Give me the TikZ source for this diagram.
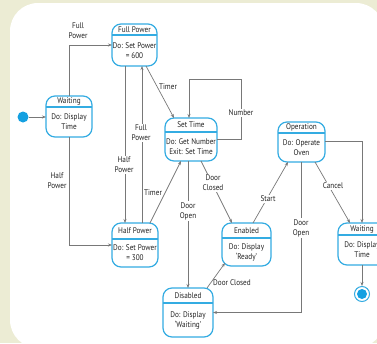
\documentclass[tikz,border=0pt]{standalone}
\usepackage{fontspec}
\setmainfont{PT Sans}[FakeStretch=0.88]
\usetikzlibrary{arrows.meta}
\definecolor{cream}{RGB}{236,236,212}
\definecolor{stcol}{RGB}{52,172,226}
\definecolor{dotcol}{RGB}{20,160,225}
\definecolor{conncol}{RGB}{120,120,120}
\definecolor{txtcol}{RGB}{35,35,35}
\tikzset{
  stbox/.style={draw=stcol, line width=1.2pt, rounded corners=9pt, inner sep=0pt, outer sep=0pt, fill=white},
  stline/.style={draw=stcol, line width=1.1pt},
  ttl/.style={font=\fontsize{8.2}{10}\selectfont, text=txtcol, inner sep=0pt},
  bdy/.style={font=\fontsize{8.2}{10}\selectfont, text=txtcol, inner sep=0pt, align=center},
  conn/.style={draw=conncol, line width=0.7pt, -{Stealth[length=4pt,width=3pt]}},
  lbl/.style={font=\fontsize{8.2}{10}\selectfont, text=txtcol, inner sep=1pt, align=center},
  lblw/.style={lbl, fill=white}
}
\newcommand\umlstate[8]{%
  \pgfmathsetmacro\stcx{(#2+#4)/2}\pgfmathsetmacro\stcy{(#3+#5)/2}%
  \pgfmathsetmacro\stww{#4-#2}\pgfmathsetmacro\sthh{#5-#3}%
  \pgfmathsetmacro\stty{(#3+#6)/2}\pgfmathsetmacro\stby{(#6+#5)/2}%
  \node[stbox, minimum width=\stww pt, minimum height=\sthh pt] (#1) at (\stcx,\stcy) {};
  \draw[stline] (#2,#6) -- (#4,#6);
  \node[ttl] (#1-t) at (\stcx,\stty) {#7};
  \node[bdy] (#1-b) at (\stcx,\stby) {#8};
}
\begin{document}
\begin{tikzpicture}[x=1pt,y=-1pt]
\clip (0,0) rectangle (377,343);
\fill[cream] (0,0) rectangle (377,343);
\fill[white, rounded corners=28pt] (10,3) rectangle (384,348);

\node[circle, fill=dotcol, minimum size=11pt, inner sep=0pt] (init) at (23,117) {};

\umlstate{wait1}{46}{96}{92}{137}{107}{Waiting}{Do: Display\\Time}
\umlstate{full}{112}{24}{157}{66}{35}{Full Power}{Do: Set Power\\= 600}
\umlstate{set}{165}{118}{217}{161}{132}{Set Time}{Do: Get Number\\Exit: Set Time}
\umlstate{half}{112}{223}{158}{267}{239}{Half Power}{Do: Set Power\\= 300}
\umlstate{en}{222}{223}{271}{266}{238}{Enabled}{Do: Display\\`Ready'}
\umlstate{dis}{163}{288}{213}{337}{303}{Disabled}{Do: Display\\`Waiting'}
\umlstate{op}{278}{122}{325}{162}{133}{Operation}{Do: Operate\\Oven}
\umlstate{wr}{338}{223}{386}{265}{235}{Waiting}{Do: Display\\Time}

\node[circle, draw=stcol, line width=1pt, fill=white, minimum size=15pt, inner sep=0pt] (final) at (362,294) {};
\node[circle, fill=dotcol, minimum size=10pt, inner sep=0pt] (finalin) at (final) {};

% connectors
\draw[conn] (init) -- (wait1.west |- init);
\draw[conn] (wait1.north) |- (full.west);
\node[lbl] (l1) at (78,31) {Full\\Power};
\draw[conn] (wait1.south) |- (half.west);
\node[lbl] (l2) at (57,181) {Half\\Power};

\draw[conn] (125,0 |- full.south) -- (125,0 |- half.north);
\node[lblw] (l3) at (124,165) {Half\\Power};
\draw[conn] (142,0 |- half.north) -- (142,0 |- full.south);
\node[lblw] (l4) at (141,133) {Full\\Power};

\draw[conn] (146,0 |- full.south) -- (174,0 |- set.north);
\node[lbl] (l5) at (168,87) {Timer};
\draw[conn] (150,0 |- half.north) -- (181,0 |- set.south);
\node[lbl] (l6) at (153,193) {Timer};

\draw[conn] (set.east |- 0,139) -- (241,139) -- (241,79) -- (189,79) -- (189,0 |- set.north);
\node[lblw] (l7) at (241,113) {Number};

\draw[conn] (201,0 |- set.south) -- (232,0 |- en.north);
\node[lblw] (l8) at (213,183) {Door\\Closed};
\draw[conn] (188,0 |- set.south) -- (188,0 |- dis.north);
\node[lblw] (l9) at (188,211) {Door\\Open};

\draw[conn] (207,0 |- dis.north) -- ([xshift=3pt,yshift=3pt]en.south west);
\node[lbl] (l10) at (232,283) {Door Closed};

\draw[conn] (253,0 |- en.north) -- (288,0 |- op.south);
\node[lblw] (l11) at (268,199) {Start};

\draw[conn] (301,0 |- op.south) |- (dis.east);
\node[lblw] (l12) at (301,228) {Door\\Open};

\draw[conn] (315,0 |- op.south) -- (350,0 |- wr.north);
\node[lblw] (l13) at (333,186) {Cancel};

\draw[conn] (op.east |- 0,141) -| (wr.north);
\draw[conn] (wr.south) -- (final);
\end{tikzpicture}
\end{document}
